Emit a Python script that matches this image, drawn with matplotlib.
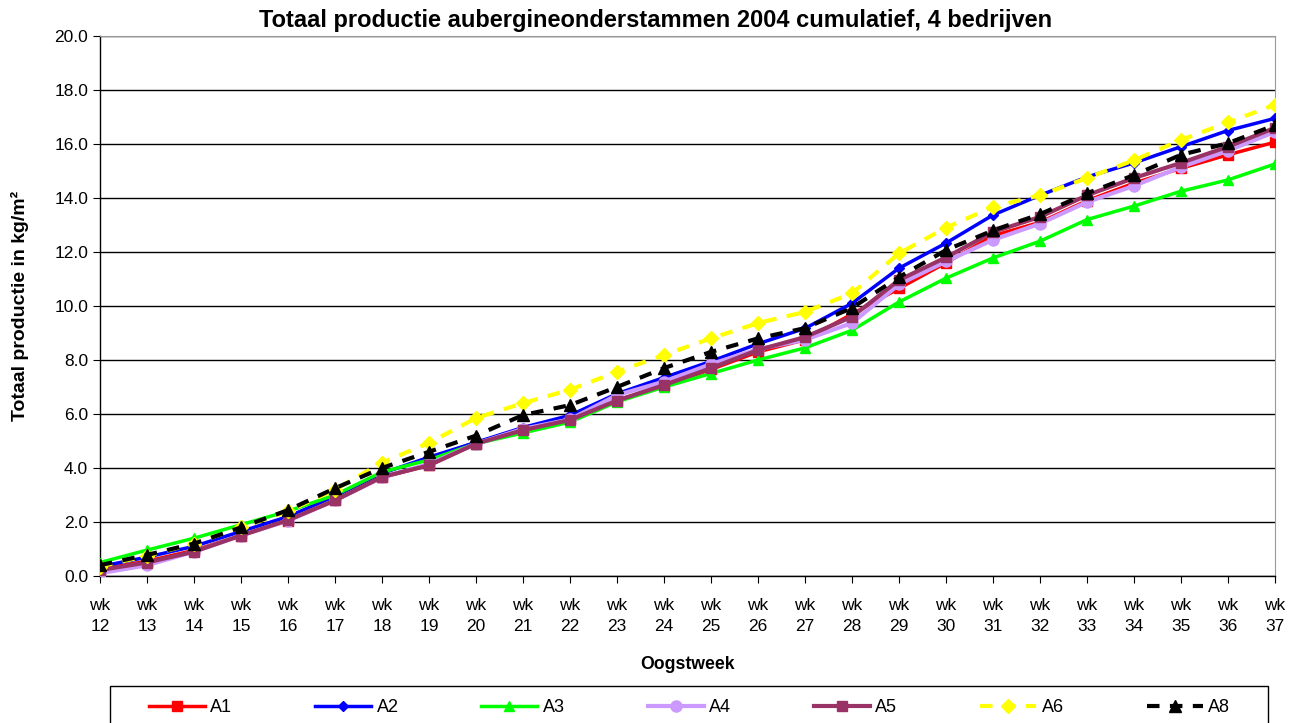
import matplotlib
matplotlib.use("Agg")
import matplotlib.pyplot as plt
from matplotlib.patches import Rectangle

weeks = list(range(12, 38))
tick_labels = [f"wk\n{w}" for w in weeks]

A1 = [0.25, 0.55, 0.95, 1.5, 2.05, 2.8, 3.65, 4.1, 4.9, 5.4, 5.8, 6.5, 7.05, 7.65, 8.3, 8.75, 9.7,
      10.65, 11.6, 12.6, 13.1, 13.9, 14.55, 15.1, 15.6, 16.07]
A2 = [0.35, 0.7, 1.1, 1.65, 2.2, 2.95, 3.8, 4.4, 4.95, 5.5, 5.95, 6.75, 7.35, 7.95, 8.6, 9.17, 10.1,
      11.4, 12.33, 13.37, 14.1, 14.78, 15.3, 15.9, 16.5, 16.95]
A3 = [0.5, 0.96, 1.4, 1.9, 2.4, 3.0, 3.85, 4.3, 4.9, 5.3, 5.7, 6.45, 7.0, 7.5, 8.0, 8.45, 9.1,
      10.15, 11.03, 11.78, 12.4, 13.2, 13.7, 14.25, 14.67, 15.26]
A4 = [0.1, 0.4, 0.9, 1.5, 2.05, 2.8, 3.65, 4.15, 4.9, 5.45, 5.8, 6.7, 7.2, 7.85, 8.4, 8.75, 9.37,
      10.8, 11.65, 12.45, 13.05, 13.85, 14.45, 15.15, 15.75, 16.45]
A5 = [0.22, 0.5, 0.9, 1.5, 2.07, 2.8, 3.67, 4.1, 4.9, 5.4, 5.78, 6.5, 7.07, 7.7, 8.37, 8.85, 9.6,
      10.96, 11.8, 12.74, 13.3, 14.1, 14.74, 15.3, 15.9, 16.6]
A6 = [0.35, 0.75, 1.2, 1.8, 2.4, 3.2, 4.2, 4.93, 5.85, 6.4, 6.9, 7.56, 8.19, 8.8, 9.37, 9.78, 10.47,
      11.95, 12.9, 13.67, 14.1, 14.74, 15.4, 16.15, 16.8, 17.45]
A8 = [0.4, 0.78, 1.2, 1.8, 2.44, 3.25, 4.0, 4.6, 5.2, 5.96, 6.33, 7.0, 7.7, 8.3, 8.8, 9.18, 9.93,
      11.07, 12.07, 12.8, 13.4, 14.17, 14.85, 15.6, 16.03, 16.7]

plt.rcParams['font.family'] = ['Liberation Sans', 'DejaVu Sans']

W, H = 1298, 723
fig = plt.figure(figsize=(W / 100, H / 100), dpi=100)
ax = fig.add_axes([100/W, 1-576/H, (1275-100)/W, (576-36)/H])

x = list(range(len(weeks)))
series = [
    ("A1", A1, dict(color="#FF0000", marker="s", ms=7, lw=2.5, ls="-")),
    ("A2", A2, dict(color="#0000FF", marker="D", ms=5, lw=2.5, ls="-")),
    ("A3", A3, dict(color="#00FF00", marker="^", ms=7, lw=2.5, ls="-")),
    ("A4", A4, dict(color="#CC99FF", marker="o", ms=8, lw=3, ls="-")),
    ("A5", A5, dict(color="#993366", marker="s", ms=7, lw=3, ls="-")),
    ("A6", A6, dict(color="#FFFF00", marker="D", ms=7, lw=3, ls=(0, (3, 2.5)))),
    ("A8", A8, dict(color="#000000", marker="^", ms=8, lw=3, ls=(0, (3, 2.5)))),
]
for name, vals, st in series:
    ax.plot(x, vals, label=name, color=st["color"], marker=st["marker"], markersize=st["ms"],
            linewidth=st["lw"], linestyle=st["ls"], markeredgecolor=st["color"],
            markerfacecolor=st["color"], zorder=3)

ax.set_xlim(0, len(weeks) - 1)
ax.set_ylim(0, 20)
ax.set_yticks([i * 2 for i in range(11)])
ax.set_yticklabels([f"{i*2:.1f}" for i in range(11)], fontsize=12.5)
ax.set_xticks(x)
ax.set_xticklabels(tick_labels, fontsize=12.5, linespacing=1.5)
ax.grid(axis="y", color="black", linewidth=1)
ax.set_axisbelow(True)
ax.tick_params(axis="both", direction="out", length=5, color="black")
ax.tick_params(axis="x", pad=11)
for s in ["top", "right"]:
    ax.spines[s].set_color("#999999")
for s in ["left", "bottom"]:
    ax.spines[s].set_color("black")
    ax.spines[s].set_linewidth(1)

ax.set_xlabel("Oogstweek", fontsize=12.7, fontweight="bold", labelpad=16)
ax.set_ylabel("Totaal productie in kg/m²", fontsize=14, fontweight="bold", labelpad=18)
fig.text(656 / W, 1 - 21 / H, "Totaal productie aubergineonderstammen 2004 cumulatief, 4 bedrijven",
         ha="center", va="center", fontsize=17, fontweight="bold")

# legend frame (extends past the bottom edge like the reference)
fig.patches.append(Rectangle((110 / W, -0.05), (1268 - 110) / W, 0.05 + (723 - 686) / H,
                             transform=fig.transFigure, facecolor="white",
                             edgecolor="black", linewidth=1, zorder=1))
leg = fig.legend(loc="center left", bbox_to_anchor=(149 / W, 1 - 708 / H, (1230 - 149) / W, 0),
                 mode="expand", ncol=7, fontsize=13, frameon=False,
                 handlelength=3.1, handletextpad=0.3, borderaxespad=0, borderpad=0)
leg.set_zorder(2)

fig.savefig("out.png", dpi=100)
